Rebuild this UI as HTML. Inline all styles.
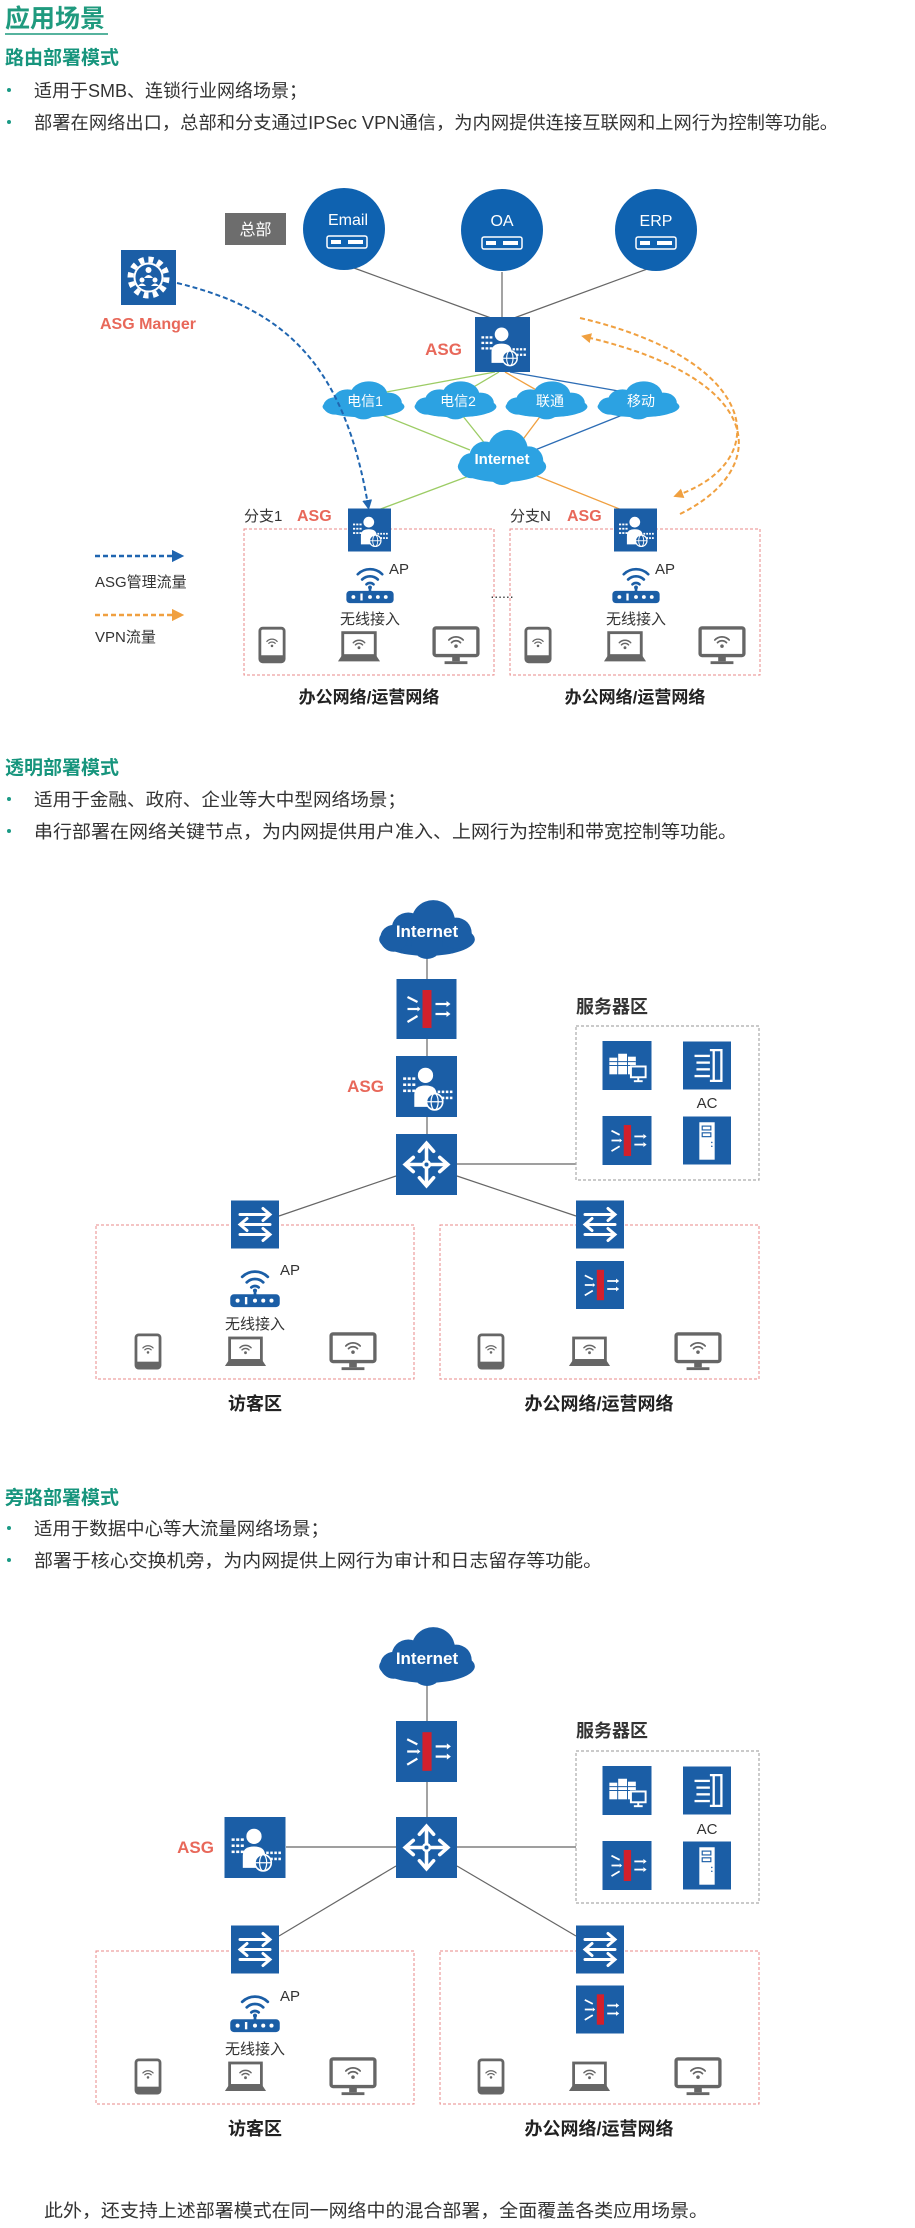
<!DOCTYPE html>
<html><head><meta charset="utf-8"><style>
html,body{margin:0;padding:0;background:#fff;}
svg{display:block;font-family:"Liberation Sans","Noto Sans CJK SC",sans-serif;}
</style></head><body>
<svg width="915" height="2228" viewBox="0 0 915 2228" xmlns="http://www.w3.org/2000/svg">
<defs>
<symbol id="asg" viewBox="0 0 60 60">
<rect width="60" height="60" fill="#1b5ea6"/>
<g fill="#fff">
<rect x="7" y="21" width="3" height="2.5"/><rect x="11.5" y="21" width="3" height="2.5"/><rect x="16" y="21" width="3" height="2.5"/>
<rect x="7" y="27" width="3" height="2.5"/><rect x="11.5" y="27" width="3" height="2.5"/><rect x="16" y="27" width="3" height="2.5"/>
<rect x="7" y="33" width="3" height="2.5"/><rect x="11.5" y="33" width="3" height="2.5"/><rect x="16" y="33" width="3" height="2.5"/>
<rect x="41" y="34" width="2.5" height="2.5"/><rect x="45" y="34" width="2.5" height="2.5"/><rect x="49" y="34" width="2.5" height="2.5"/><rect x="53" y="34" width="2.5" height="2.5"/>
<rect x="41" y="40" width="2.5" height="2.5"/><rect x="45" y="40" width="2.5" height="2.5"/><rect x="49" y="40" width="2.5" height="2.5"/><rect x="53" y="40" width="2.5" height="2.5"/>
<circle cx="29" cy="19" r="7.5"/>
<path d="M18 50 V38 Q18 29 29 29 Q40 29 40 38 V50 Z"/>
</g>
<circle cx="38" cy="45" r="8" fill="#1b5ea6" stroke="#fff" stroke-width="1.6"/>
<ellipse cx="38" cy="45" rx="3.5" ry="8" fill="none" stroke="#fff" stroke-width="1.2"/>
<line x1="30" y1="45" x2="46" y2="45" stroke="#fff" stroke-width="1.2"/>
</symbol>
<symbol id="fw" viewBox="0 0 60 60">
<rect width="60" height="60" fill="#1b5ea6"/>
<rect x="26" y="11" width="9" height="38" fill="#d2202c"/>
<g stroke="#fff" stroke-width="2.2" fill="none">
<line x1="11" y1="18" x2="21" y2="23"/><line x1="11" y1="30" x2="21" y2="30"/><line x1="11" y1="43" x2="21" y2="37"/>
<line x1="39" y1="25" x2="50" y2="25"/><line x1="39" y1="35" x2="50" y2="35"/>
</g>
<g fill="#fff"><path d="M50 22 L54 25 L50 28Z"/><path d="M50 32 L54 35 L50 38Z"/><path d="M21 27.5 L24 30 L21 32.5Z"/></g>
</symbol>
<symbol id="router" viewBox="0 0 60 60">
<rect width="60" height="60" fill="#1b5ea6"/>
<g stroke="#fff" stroke-width="3.5" fill="none" stroke-linecap="round">
<line x1="30" y1="30" x2="30" y2="12"/><line x1="30" y1="30" x2="30" y2="48"/>
<line x1="30" y1="30" x2="12" y2="30"/><line x1="30" y1="30" x2="48" y2="30"/>
<polyline points="23,17 30,9 37,17"/><polyline points="23,43 30,51 37,43"/>
<polyline points="17,23 9,30 17,37"/><polyline points="43,23 51,30 43,37"/>
</g>
<circle cx="30" cy="30" r="4.5" fill="#fff"/><circle cx="30" cy="30" r="2" fill="#1b5ea6"/>
</symbol>
<symbol id="switch" viewBox="0 0 48 48">
<rect width="48" height="48" fill="#1b5ea6"/>
<g stroke="#fff" stroke-width="3" fill="none" stroke-linecap="round">
<line x1="9" y1="14" x2="37" y2="14"/><polyline points="32,8 39,14 32,20"/>
<line x1="11" y1="24" x2="39" y2="24"/><polyline points="16,18 9,24 16,30"/>
<line x1="9" y1="34" x2="37" y2="34"/><polyline points="32,28 39,34 32,40"/>
</g>
</symbol>
<symbol id="srv" viewBox="0 0 50 50">
<rect width="50" height="50" fill="#1b5ea6"/>
<g fill="#fff"><rect x="7" y="17" width="8" height="17"/><rect x="16" y="13" width="9" height="21"/><rect x="26" y="16" width="8" height="18"/></g>
<g stroke="#1b5ea6" stroke-width="1"><line x1="7" y1="21" x2="34" y2="21"/><line x1="7" y1="25" x2="34" y2="25"/></g>
<rect x="29" y="26" width="15" height="11" fill="#1b5ea6" stroke="#fff" stroke-width="2"/>
<line x1="36.5" y1="37" x2="36.5" y2="41" stroke="#fff" stroke-width="2"/><line x1="32" y1="41" x2="41" y2="41" stroke="#fff" stroke-width="2"/>
</symbol>
<symbol id="ac" viewBox="0 0 50 50">
<rect width="50" height="50" fill="#1b5ea6"/>
<g stroke="#fff" stroke-width="2.4" fill="none">
<polyline points="28,9 40,9 40,41 28,41"/><line x1="32" y1="9" x2="32" y2="41"/>
<line x1="12" y1="15" x2="28" y2="15"/><line x1="14" y1="22" x2="28" y2="22"/><line x1="14" y1="29" x2="28" y2="29"/><line x1="12" y1="36" x2="28" y2="36"/>
</g>
</symbol>
<symbol id="tower" viewBox="0 0 50 50">
<rect width="50" height="50" fill="#1b5ea6"/>
<rect x="17" y="6" width="16" height="39" fill="#fff"/>
<g fill="none" stroke="#1b5ea6" stroke-width="1.2"><rect x="20" y="10" width="9" height="4"/><rect x="20" y="17" width="9" height="4"/></g>
<circle cx="30" cy="27" r="0.8" fill="#1b5ea6"/><circle cx="30" cy="31" r="0.8" fill="#1b5ea6"/>
</symbol>
<symbol id="mgr" viewBox="0 0 55 55">
<rect width="55" height="55" fill="#1b5ea6"/>
<circle cx="27.5" cy="27.5" r="18" fill="none" stroke="#fff" stroke-width="6" stroke-dasharray="5 4.4"/>
<circle cx="27.5" cy="27.5" r="14" fill="#1b5ea6" stroke="#fff" stroke-width="2"/>
<g fill="#fff"><circle cx="27.5" cy="20" r="3"/><path d="M23 28 Q27.5 22 32 28Z"/><circle cx="21" cy="30" r="2.5"/><path d="M17 36 Q21 31 25 36Z"/><circle cx="34" cy="30" r="2.5"/><path d="M30 36 Q34 31 38 36Z"/></g>
</symbol>
<symbol id="ap" viewBox="0 0 56 48">
<g fill="none" stroke="#1b5ea6" stroke-width="3" stroke-linecap="round">
<path d="M14 14 A20 20 0 0 1 42 14"/><path d="M19 20 A13 13 0 0 1 37 20"/><path d="M24 25.5 A6 6 0 0 1 32 25.5"/>
<line x1="28" y1="29" x2="28" y2="34"/>
</g>
<circle cx="28" cy="29" r="2.2" fill="#1b5ea6"/>
<rect x="1" y="33" width="54" height="14" rx="4" fill="#1b5ea6"/>
<g fill="#fff"><circle cx="9" cy="40" r="2.2"/><rect x="17" y="36" width="2.6" height="8"/><circle cx="28" cy="40" r="2.2"/><circle cx="37" cy="40" r="2.2"/><circle cx="46" cy="40" r="2.2"/></g>
</symbol>
<symbol id="wf" viewBox="0 0 20 16">
<g fill="none" stroke="#666" stroke-width="2" stroke-linecap="round">
<path d="M2 6 A11 11 0 0 1 18 6"/><path d="M5 9 A7 7 0 0 1 15 9"/></g>
<circle cx="10" cy="13" r="2" fill="#666"/>
</symbol>
<symbol id="tablet" viewBox="0 0 30 40">
<rect x="2" y="2" width="26" height="36" rx="3" fill="none" stroke="#666" stroke-width="3"/>
<rect x="2" y="31" width="26" height="7" fill="#666"/>
<use href="#wf" x="8" y="12" width="14" height="11"/>
</symbol>
<symbol id="laptop" viewBox="0 0 46 34">
<rect x="6" y="2" width="34" height="24" fill="none" stroke="#666" stroke-width="3"/>
<path d="M1 32 L5 26 H41 L45 32Z" fill="#666"/>
<use href="#wf" x="15" y="8" width="16" height="12"/>
</symbol>
<symbol id="monitor" viewBox="0 0 50 42">
<rect x="2" y="2" width="46" height="29" rx="2" fill="none" stroke="#666" stroke-width="3.5"/>
<rect x="21" y="31" width="8" height="6" fill="#666"/><rect x="13" y="37" width="24" height="3" fill="#666"/>
<use href="#wf" x="15" y="9" width="20" height="15"/>
</symbol>
<symbol id="cloud" viewBox="0 0 100 60" preserveAspectRatio="none">
<ellipse cx="50" cy="40" rx="46" ry="16"/>
<circle cx="32" cy="30" r="16"/><circle cx="56" cy="23" r="21"/><circle cx="78" cy="34" r="15"/><circle cx="18" cy="39" r="13"/><circle cx="50" cy="44" r="15"/>
</symbol>
<marker id="ab" viewBox="0 0 10 10" refX="5" refY="5" markerWidth="5" markerHeight="5" orient="auto"><path d="M0 0 L10 5 L0 10Z" fill="#1f65b0"/></marker>
<marker id="ao" viewBox="0 0 10 10" refX="5" refY="5" markerWidth="5" markerHeight="5" orient="auto"><path d="M0 0 L10 5 L0 10Z" fill="#f0a040"/></marker>
</defs>

<!-- Header -->
<text x="5" y="27" font-size="25" font-weight="bold" fill="#1f9a7e">应用场景</text>
<line x1="5" y1="34" x2="108" y2="34" stroke="#1f9a7e" stroke-width="1.5"/>
<g font-size="19" font-weight="bold" fill="#17957d">
<text x="5" y="64">路由部署模式</text>
<text x="5" y="774">透明部署模式</text>
<text x="5" y="1504">旁路部署模式</text>
</g>
<g fill="#1a9a85"><circle cx="9" cy="90" r="2"/><circle cx="9" cy="122" r="2"/><circle cx="9" cy="799" r="2"/><circle cx="9" cy="831" r="2"/><circle cx="9" cy="1528" r="2"/><circle cx="9" cy="1560" r="2"/></g>
<g font-size="18" fill="#333" lengthAdjust="spacingAndGlyphs">
<text x="34" y="97" textLength="273" lengthAdjust="spacingAndGlyphs">适用于SMB、连锁行业网络场景；</text>
<text x="34" y="129" textLength="804" lengthAdjust="spacingAndGlyphs">部署在网络出口，总部和分支通过IPSec VPN通信，为内网提供连接互联网和上网行为控制等功能。</text>
<text x="34" y="806" textLength="372" lengthAdjust="spacingAndGlyphs">适用于金融、政府、企业等大中型网络场景；</text>
<text x="34" y="838" textLength="703" lengthAdjust="spacingAndGlyphs">串行部署在网络关键节点，为内网提供用户准入、上网行为控制和带宽控制等功能。</text>
<text x="34" y="1535" textLength="295" lengthAdjust="spacingAndGlyphs">适用于数据中心等大流量网络场景；</text>
<text x="34" y="1567" textLength="568" lengthAdjust="spacingAndGlyphs">部署于核心交换机旁，为内网提供上网行为审计和日志留存等功能。</text>
<text x="44" y="2217" textLength="664" lengthAdjust="spacingAndGlyphs">此外，还支持上述部署模式在同一网络中的混合部署，全面覆盖各类应用场景。</text>
</g>

<!-- ===== Diagram 1 ===== -->
<rect x="225" y="213" width="61" height="32" fill="#6d6d6d"/>
<text x="255.5" y="235" font-size="16" fill="#fff" text-anchor="middle">总部</text>
<g stroke="#666" stroke-width="1.2">
<line x1="354" y1="268" x2="491" y2="318"/><line x1="502" y1="272" x2="502" y2="318"/><line x1="650" y1="268" x2="514" y2="318"/>
</g>
<g>
<circle cx="344" cy="229" r="41" fill="#0f62b0"/><circle cx="502" cy="230" r="41" fill="#0f62b0"/><circle cx="656" cy="230" r="41" fill="#0f62b0"/>
</g>
<g font-size="16" fill="#fff" text-anchor="middle"><text x="348" y="225">Email</text><text x="502" y="226">OA</text><text x="656" y="226">ERP</text></g>
<g fill="none" stroke="#fff" stroke-width="1.5">
<rect x="327" y="236" width="40" height="12" rx="2"/><rect x="482" y="237" width="40" height="12" rx="2"/><rect x="636" y="237" width="40" height="12" rx="2"/>
</g>
<g fill="#fff">
<rect x="331" y="240" width="10" height="4"/><rect x="348" y="240" width="15" height="4"/>
<rect x="486" y="241" width="10" height="4"/><rect x="503" y="241" width="15" height="4"/>
<rect x="640" y="241" width="10" height="4"/><rect x="657" y="241" width="15" height="4"/>
</g>
<!-- lines ASG -> clouds -> Internet -> branches -->
<g stroke-width="1.3">
<line x1="495" y1="372" x2="370" y2="395" stroke="#9ccc65"/>
<line x1="499" y1="372" x2="460" y2="395" stroke="#9ccc65"/>
<line x1="505" y1="372" x2="545" y2="395" stroke="#f0a040"/>
<line x1="510" y1="372" x2="630" y2="393" stroke="#2d6db5"/>
<line x1="370" y1="410" x2="470" y2="450" stroke="#9ccc65"/>
<line x1="458" y1="410" x2="490" y2="450" stroke="#9ccc65"/>
<line x1="545" y1="410" x2="515" y2="450" stroke="#f0a040"/>
<line x1="630" y1="412" x2="530" y2="452" stroke="#2d6db5"/>
<line x1="485" y1="470" x2="378" y2="510" stroke="#9ccc65"/>
<line x1="522" y1="470" x2="622" y2="510" stroke="#f0a040"/>
</g>
<use href="#asg" x="475" y="317" width="55" height="55"/>
<text x="462" y="355" font-size="17" font-weight="bold" fill="#e8685a" text-anchor="end">ASG</text>
<g fill="#2ca2e2">
<use href="#cloud" x="319" y="380" width="89" height="40"/>
<use href="#cloud" x="411" y="380" width="89" height="40"/>
<use href="#cloud" x="502" y="380" width="89" height="40"/>
<use href="#cloud" x="594" y="380" width="89" height="40"/>
<use href="#cloud" x="454" y="428" width="96" height="58"/>
</g>
<g font-size="14" fill="#fff" text-anchor="middle">
<text x="365" y="406">电信1</text><text x="458" y="406">电信2</text><text x="550" y="406">联通</text><text x="641" y="406">移动</text>
<text x="502" y="464" font-size="15" font-weight="bold">Internet</text>
</g>
<!-- manager -->
<use href="#mgr" x="121" y="250" width="55" height="55"/>
<text x="148" y="329" font-size="16" font-weight="bold" fill="#e8685a" text-anchor="middle">ASG Manger</text>
<path d="M177 283 C290 310 345 370 368 505" fill="none" stroke="#1f65b0" stroke-width="2" stroke-dasharray="5 3" marker-end="url(#ab)"/>
<path d="M680 514 C770 470 770 380 586 337" fill="none" stroke="#f0a040" stroke-width="2" stroke-dasharray="5 3" marker-end="url(#ao)"/>
<path d="M580 318 C760 360 775 460 678 495" fill="none" stroke="#f0a040" stroke-width="2" stroke-dasharray="5 3" marker-end="url(#ao)"/>
<!-- branches -->
<g fill="none" stroke="#e88a8a" stroke-width="1" stroke-dasharray="3 2">
<rect x="244" y="529" width="250" height="146"/><rect x="510" y="529" width="250" height="146"/>
</g>
<use href="#asg" x="348" y="508" width="43" height="44"/>
<use href="#asg" x="614" y="508" width="43" height="44"/>
<g font-size="15" fill="#333"><text x="244" y="521">分支1</text><text x="510" y="521">分支N</text></g>
<g font-size="16" font-weight="bold" fill="#e8685a"><text x="297" y="521">ASG</text><text x="567" y="521">ASG</text></g>
<use href="#ap" x="344" y="562" width="52" height="42"/>
<use href="#ap" x="610" y="562" width="52" height="42"/>
<g font-size="15" fill="#333"><text x="389" y="574">AP</text><text x="655" y="574">AP</text>
<text x="370" y="624" text-anchor="middle">无线接入</text><text x="636" y="624" text-anchor="middle">无线接入</text></g>
<text x="502" y="598" font-size="14" fill="#333" text-anchor="middle">......</text>
<use href="#tablet" x="258" y="626" width="28" height="38"/>
<use href="#laptop" x="337" y="630" width="44" height="34"/>
<use href="#monitor" x="432" y="626" width="48" height="40"/>
<use href="#tablet" x="524" y="626" width="28" height="38"/>
<use href="#laptop" x="603" y="630" width="44" height="34"/>
<use href="#monitor" x="698" y="626" width="48" height="40"/>
<g font-size="17" font-weight="bold" fill="#222" text-anchor="middle"><text x="369" y="703">办公网络/运营网络</text><text x="635" y="703">办公网络/运营网络</text></g>
<!-- legend -->
<line x1="95" y1="556" x2="178" y2="556" stroke="#1f65b0" stroke-width="2.5" stroke-dasharray="5 3" marker-end="url(#ab)"/>
<text x="95" y="587" font-size="15" fill="#333">ASG管理流量</text>
<line x1="95" y1="615" x2="178" y2="615" stroke="#f0a040" stroke-width="2.5" stroke-dasharray="5 3" marker-end="url(#ao)"/>
<text x="95" y="642" font-size="15" fill="#333">VPN流量</text>

<!-- ===== Diagram 2 ===== -->
<g stroke="#666" stroke-width="1.2">
<line x1="427" y1="950" x2="427" y2="1134"/>
<line x1="457" y1="1164" x2="576" y2="1164"/>
<line x1="396" y1="1176" x2="279" y2="1216"/>
<line x1="457" y1="1176" x2="576" y2="1216"/>
</g>
<use href="#cloud" x="375" y="898" width="104" height="62" fill="#1b5ea6"/>
<text x="427" y="937" font-size="17" font-weight="bold" fill="#fff" text-anchor="middle">Internet</text>
<use href="#fw" x="396" y="979" width="61" height="60"/>
<use href="#asg" x="396" y="1056" width="61" height="61"/>
<text x="384" y="1092" font-size="17" font-weight="bold" fill="#e8685a" text-anchor="end">ASG</text>
<use href="#router" x="396" y="1134" width="61" height="61"/>
<text x="576" y="1013" font-size="18" font-weight="bold" fill="#333">服务器区</text>
<rect x="576" y="1026" width="183" height="154" fill="none" stroke="#aaa" stroke-width="1.2" stroke-dasharray="3 2"/>
<use href="#srv" x="602" y="1041" width="50" height="49"/>
<use href="#ac" x="683" y="1041" width="48" height="49"/>
<text x="707" y="1108" font-size="15" fill="#333" text-anchor="middle">AC</text>
<use href="#fw" x="602" y="1116" width="50" height="49"/>
<use href="#tower" x="683" y="1116" width="48" height="49"/>
<g fill="none" stroke="#e88a8a" stroke-width="1" stroke-dasharray="3 2">
<rect x="96" y="1225" width="318" height="154"/><rect x="440" y="1225" width="319" height="154"/>
</g>
<use href="#switch" x="231" y="1200" width="48" height="49"/>
<use href="#switch" x="576" y="1200" width="48" height="49"/>
<use href="#fw" x="576" y="1261" width="48" height="48"/>
<use href="#ap" x="228" y="1264" width="54" height="44"/>
<text x="280" y="1275" font-size="15" fill="#333">AP</text>
<text x="255" y="1329" font-size="15" fill="#333" text-anchor="middle">无线接入</text>
<use href="#tablet" x="134" y="1333" width="28" height="37"/>
<use href="#laptop" x="224" y="1335" width="43" height="34"/>
<use href="#monitor" x="329" y="1332" width="48" height="40"/>
<use href="#tablet" x="477" y="1333" width="28" height="37"/>
<use href="#laptop" x="568" y="1335" width="43" height="34"/>
<use href="#monitor" x="674" y="1332" width="48" height="40"/>
<g font-size="18" font-weight="bold" fill="#222" text-anchor="middle"><text x="255" y="1410">访客区</text><text x="599" y="1410">办公网络/运营网络</text></g>

<!-- ===== Diagram 3 ===== -->
<g stroke="#666" stroke-width="1.2">
<line x1="427" y1="1677" x2="427" y2="1817"/>
<line x1="286" y1="1847" x2="396" y2="1847"/>
<line x1="457" y1="1847" x2="576" y2="1847"/>
<line x1="396" y1="1866" x2="279" y2="1936"/>
<line x1="457" y1="1866" x2="576" y2="1936"/>
</g>
<use href="#cloud" x="375" y="1625" width="104" height="62" fill="#1b5ea6"/>
<text x="427" y="1664" font-size="17" font-weight="bold" fill="#fff" text-anchor="middle">Internet</text>
<use href="#fw" x="396" y="1721" width="61" height="61"/>
<use href="#router" x="396" y="1817" width="61" height="61"/>
<use href="#asg" x="224" y="1817" width="62" height="61"/>
<text x="214" y="1853" font-size="17" font-weight="bold" fill="#e8685a" text-anchor="end">ASG</text>
<text x="576" y="1737" font-size="18" font-weight="bold" fill="#333">服务器区</text>
<rect x="576" y="1751" width="183" height="152" fill="none" stroke="#aaa" stroke-width="1.2" stroke-dasharray="3 2"/>
<use href="#srv" x="602" y="1766" width="50" height="49"/>
<use href="#ac" x="683" y="1766" width="48" height="49"/>
<text x="707" y="1834" font-size="15" fill="#333" text-anchor="middle">AC</text>
<use href="#fw" x="602" y="1841" width="50" height="49"/>
<use href="#tower" x="683" y="1841" width="48" height="49"/>
<g fill="none" stroke="#e88a8a" stroke-width="1" stroke-dasharray="3 2">
<rect x="96" y="1951" width="318" height="153"/><rect x="440" y="1951" width="319" height="153"/>
</g>
<use href="#switch" x="231" y="1925" width="48" height="49"/>
<use href="#switch" x="576" y="1925" width="48" height="49"/>
<use href="#fw" x="576" y="1985" width="48" height="49"/>
<use href="#ap" x="228" y="1989" width="54" height="44"/>
<text x="280" y="2001" font-size="15" fill="#333">AP</text>
<text x="255" y="2054" font-size="15" fill="#333" text-anchor="middle">无线接入</text>
<use href="#tablet" x="134" y="2058" width="28" height="37"/>
<use href="#laptop" x="224" y="2060" width="43" height="34"/>
<use href="#monitor" x="329" y="2057" width="48" height="40"/>
<use href="#tablet" x="477" y="2058" width="28" height="37"/>
<use href="#laptop" x="568" y="2060" width="43" height="34"/>
<use href="#monitor" x="674" y="2057" width="48" height="40"/>
<g font-size="18" font-weight="bold" fill="#222" text-anchor="middle"><text x="255" y="2135">访客区</text><text x="599" y="2135">办公网络/运营网络</text></g>
</svg>
</body></html>
